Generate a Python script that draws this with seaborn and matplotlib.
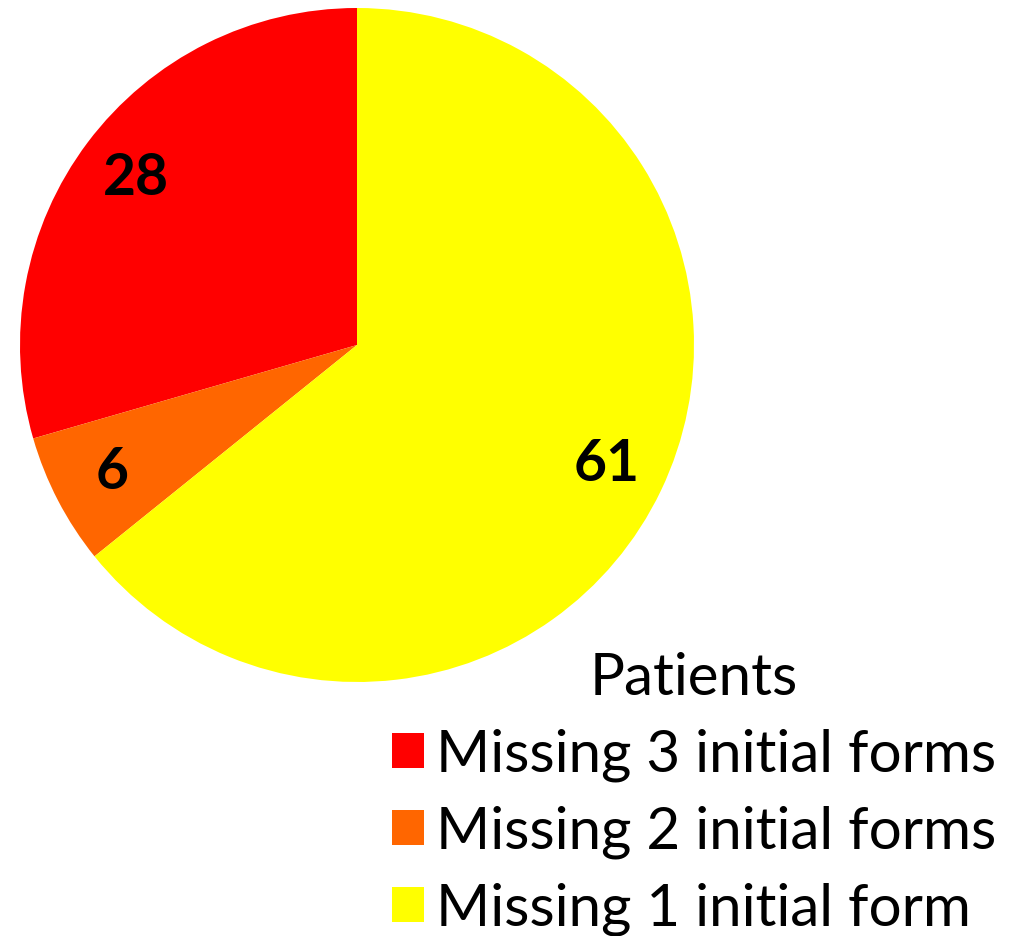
import matplotlib
matplotlib.use("Agg")
import matplotlib.pyplot as plt
import seaborn as sns
from matplotlib.patches import Patch

sns.set_theme(style="white")
plt.rcParams['font.family'] = ['Lato', 'DejaVu Sans']
plt.rcParams['text.color'] = 'black'
plt.rcParams['legend.labelcolor'] = 'black'

categories = ["Missing 3 initial forms", "Missing 2 initial forms", "Missing 1 initial form"]
values = [28, 6, 61]
colors = ["#FF0000", "#FF6600", "#FFFF00"]
legend_title = "Patients"

fig = plt.figure(figsize=(10.28, 9.36), dpi=100)
ax = fig.add_axes([20/1028, (936-682)/936, 674/1028, 674/936])

wedges, texts, autotexts = ax.pie(
    values, colors=colors, startangle=90, counterclock=True,
    autopct=lambda p: f"{round(p*sum(values)/100):d}", pctdistance=0.82,
    wedgeprops=dict(linewidth=0), radius=1.0,
    textprops=dict(fontsize=41, fontweight="bold", color="black"))
ax.set_xlim(-1, 1)
ax.set_ylim(-1, 1)
ax.set_aspect("equal")
ax.axis("off")

handles = [Patch(facecolor=c, edgecolor="none") for c in colors]
leg = fig.legend(handles, categories, title=legend_title, loc="lower right",
                 bbox_to_anchor=(1.003, -0.037), frameon=False, fontsize=42,
                 title_fontsize=42, handlelength=0.55, handleheight=0.55,
                 handletextpad=0.2, labelspacing=0.4, borderaxespad=0.2)
for t in leg.get_texts():
    t.set_color("black")
leg.get_title().set_color("black")

fig.savefig("out.png", dpi=100)
